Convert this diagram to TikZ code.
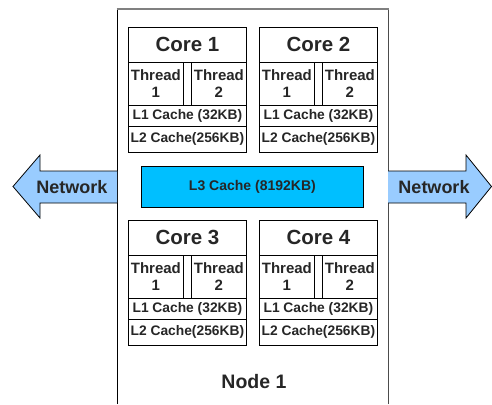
\documentclass[tikz,border=0pt]{standalone}
\usepackage{fontspec}
\setmainfont{Liberation Sans}
\definecolor{netblue}{HTML}{99CCFF}
\definecolor{lthreeblue}{HTML}{00BFFF}
\tikzset{
    part/.style={draw=black, line width=0.8pt, anchor=north west, inner sep=0pt, align=center, text=black!85},
    coretitle/.style={part, minimum width=118pt, minimum height=35pt, font=\bfseries\fontsize{20.5}{22}\selectfont},
    thread/.style={part, minimum width=55pt, minimum height=43pt, font=\bfseries\fontsize{15}{17}\selectfont},
    lonecache/.style={part, minimum width=118pt, minimum height=21pt, font=\bfseries\fontsize{13.8}{15}\selectfont},
    ltwocache/.style={part, minimum width=118pt, minimum height=26pt, font=\bfseries\fontsize{13.8}{15}\selectfont},
    netarrow/.style={fill=netblue, draw=black, line width=0.8pt, line join=miter},
    nettext/.style={text=black!85, font=\bfseries\fontsize{18}{20}\selectfont}
}
\begin{document}
\begin{tikzpicture}[x=1pt,y=-1pt]
    \useasboundingbox (0,0) rectangle (492,404);
    % node frame
    \draw[line width=1pt] (117,404) -- (117,9.5);
    \draw[line width=1pt, black!70] (388,404) -- (388,9.5);
    \draw[line width=2pt, gray] (116.5,9.5) -- (388.5,9.5);
    % core 1
    \node[coretitle] (c1) at (128,27) {Core 1};
    \node[thread] (c1t1) at (128,62) {Thread\\1};
    \node[thread] (c1t2) at (191,62) {Thread\\2};
    \node[lonecache] (c1l1) at (128,105) {L1 Cache (32KB)};
    \node[ltwocache] (c1l2) at (128,126) {L2 Cache(256KB)};
    % core 2
    \node[coretitle] (c2) at (259,27) {Core 2};
    \node[thread] (c2t1) at (259,62) {Thread\\1};
    \node[thread] (c2t2) at (322,62) {Thread\\2};
    \node[lonecache] (c2l1) at (259,105) {L1 Cache (32KB)};
    \node[ltwocache] (c2l2) at (259,126) {L2 Cache(256KB)};
    % core 3
    \node[coretitle] (c3) at (128,220) {Core 3};
    \node[thread] (c3t1) at (128,255) {Thread\\1};
    \node[thread] (c3t2) at (191,255) {Thread\\2};
    \node[lonecache] (c3l1) at (128,298) {L1 Cache (32KB)};
    \node[ltwocache] (c3l2) at (128,319) {L2 Cache(256KB)};
    % core 4
    \node[coretitle] (c4) at (259,220) {Core 4};
    \node[thread] (c4t1) at (259,255) {Thread\\1};
    \node[thread] (c4t2) at (322,255) {Thread\\2};
    \node[lonecache] (c4l1) at (259,298) {L1 Cache (32KB)};
    \node[ltwocache] (c4l2) at (259,319) {L2 Cache(256KB)};
    % shared cache
    \node[part, fill=lthreeblue, minimum width=222pt, minimum height=41pt, font=\bfseries\fontsize{14}{16}\selectfont] (l3) at (141,166) {L3 Cache (8192KB)};
    % network arrows
    \filldraw[netarrow] (117,171) -- (40,171) -- (40,155) -- (13,186.5) -- (40,218) -- (40,203) -- (117,203);
    \node[nettext] (netl) at (72,187) {Network};
    \filldraw[netarrow] (388,171) -- (466,171) -- (466,155) -- (491.5,186.5) -- (466,218) -- (466,203) -- (388,203);
    \node[nettext] (netr) at (434,187) {Network};
    % label
    \node[text=black!85, font=\bfseries\fontsize{19.5}{22}\selectfont] (nodelabel) at (254,382) {Node 1};
\end{tikzpicture}
\end{document}
